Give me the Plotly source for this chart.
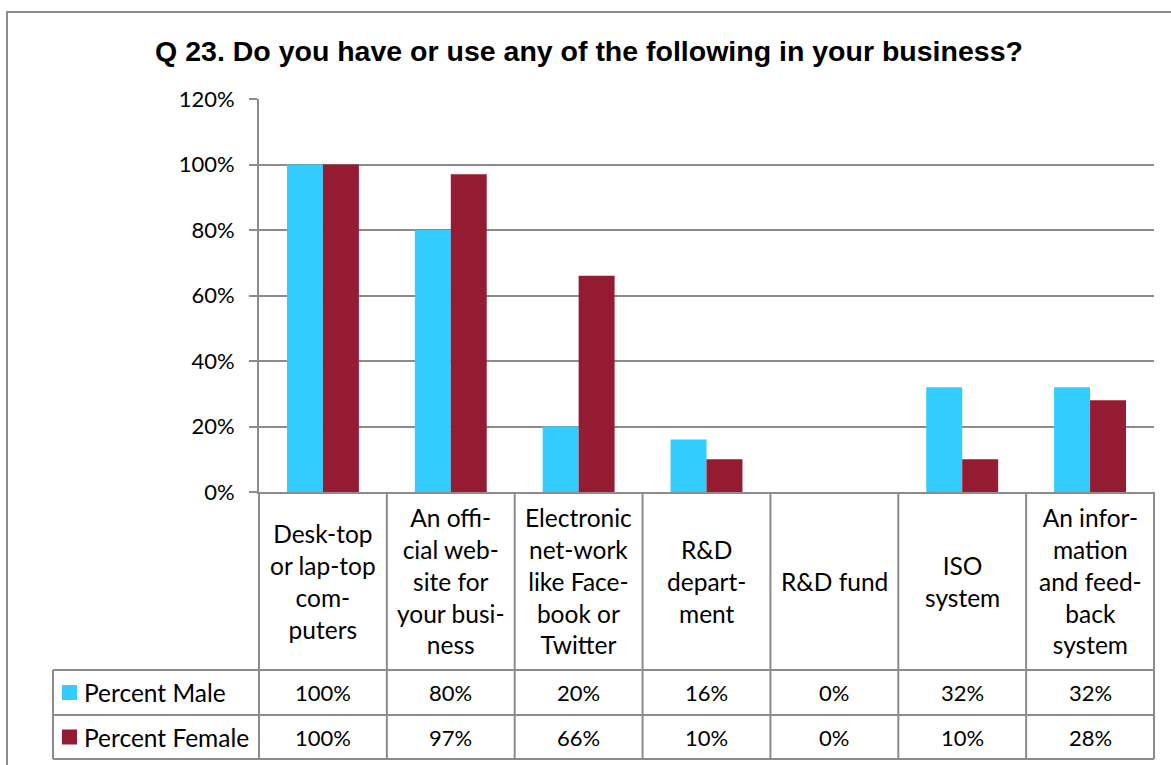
import plotly.graph_objects as go

# Survey data
categories = [
    "Desk-top or lap-top computers",
    "An official web-site for your business",
    "Electronic net-work like Facebook or Twitter",
    "R&D department",
    "R&D fund",
    "ISO system",
    "An information and feedback system",
]
header_labels = [
    "Desk-top<br>or lap-top<br>com-<br>puters",
    "An offi-<br>cial web-<br>site for<br>your busi-<br>ness",
    "Electronic<br>net-work<br>like Face-<br>book or<br>Twitter",
    "R&D<br>depart-<br>ment",
    "R&D fund",
    "ISO<br>system",
    "An infor-<br>mation<br>and feed-<br>back<br>system",
]
percent_male = [100, 80, 20, 16, 0, 32, 32]
percent_female = [100, 97, 66, 10, 0, 10, 28]
series_names = ["Percent Male", "Percent Female"]
y_ticks = [0, 20, 40, 60, 80, 100, 120]

W, H = 1171, 765
MALE_C = "#33CCFF"
FEMALE_C = "#951B32"
LINE_C = "#8C8C8C"
FONT = "Lato, Calibri, sans-serif"
FS_NUM = 22   # numeric labels
FS_TXT = 24.5  # word labels


def px(x):
    return x / W


def py(y):
    return 1 - y / H


# plot area / table geometry (pixels)
PL, PR = 259, 1154
PT, PB = 99, 492
ROW1, ROW2, ROW3 = 670, 715, 759
LEG_L = 53

fig = go.Figure()
fig.add_trace(go.Bar(x=categories, y=[v / 100 for v in percent_male],
                     name=series_names[0], marker_color=MALE_C, marker_line_width=0))
fig.add_trace(go.Bar(x=categories, y=[v / 100 for v in percent_female],
                     name=series_names[1], marker_color=FEMALE_C, marker_line_width=0))

shapes = []
# outer chart frame
shapes.append(dict(type="rect", xref="paper", yref="paper",
                   x0=px(7), x1=px(1185), y0=py(790), y1=py(12),
                   line=dict(color=LINE_C, width=2), fillcolor="rgba(0,0,0,0)"))
# table horizontal rules
for yy in [ROW1, ROW2, ROW3]:
    shapes.append(dict(type="line", xref="paper", yref="paper",
                       x0=px(LEG_L), x1=px(PR), y0=py(yy), y1=py(yy),
                       line=dict(color=LINE_C, width=2)))
# legend column left edge
shapes.append(dict(type="line", xref="paper", yref="paper",
                   x0=px(LEG_L), x1=px(LEG_L), y0=py(ROW1), y1=py(ROW3),
                   line=dict(color=LINE_C, width=2)))
# column separators
n = len(categories)
for k in range(n + 1):
    xx = PL + k * (PR - PL) / n
    shapes.append(dict(type="line", xref="paper", yref="paper",
                       x0=px(xx), x1=px(xx), y0=py(PB), y1=py(ROW3),
                       line=dict(color=LINE_C, width=2)))
# legend swatches
row_centers = [(ROW1 + ROW2) / 2, (ROW2 + ROW3) / 2]
for c, cy in zip([MALE_C, FEMALE_C], row_centers):
    shapes.append(dict(type="rect", xref="paper", yref="paper",
                       x0=px(62), x1=px(77), y0=py(cy + 7.5), y1=py(cy - 7.5),
                       line=dict(width=0), fillcolor=c))

annotations = []
for cat, lab in zip(categories, header_labels):
    annotations.append(dict(x=cat, xref="x", y=py((PB + ROW1) / 2), yref="paper",
                            text=lab, showarrow=False, xanchor="center", yanchor="middle",
                            font=dict(family=FONT, size=FS_TXT, color="black")))
for vals, yy in zip([percent_male, percent_female], row_centers):
    for cat, v in zip(categories, vals):
        annotations.append(dict(x=cat, xref="x", y=py(yy), yref="paper",
                                text=f"{v}%", showarrow=False, xanchor="center", yanchor="middle",
                                font=dict(family=FONT, size=FS_NUM, color="black")))
for name, yy in zip(series_names, row_centers):
    annotations.append(dict(x=px(82), xref="paper", y=py(yy), yref="paper",
                            text=name, showarrow=False, xanchor="left", yanchor="middle",
                            font=dict(family=FONT, size=FS_TXT, color="black")))

fig.update_layout(
    width=W, height=H,
    margin=dict(l=0, r=0, t=0, b=0, autoexpand=False),
    paper_bgcolor="white", plot_bgcolor="white",
    showlegend=False,
    barmode="group", bargap=0.4375, bargroupgap=0,
    title=dict(text="<b>Q 23. Do you have or use any of the following in your business?</b>",
               x=px(589), y=py(51), xanchor="center", yanchor="middle",
               font=dict(family="Arial, Liberation Sans, sans-serif", size=28.5, color="black")),
    xaxis=dict(domain=[px(PL), px(PR)], showticklabels=False, ticks="", automargin=False,
               showline=True, linecolor=LINE_C, linewidth=2, showgrid=False,
               range=[-0.5, n - 0.5]),
    yaxis=dict(domain=[py(PB), py(PT)], range=[0, 1.2], tickvals=[t / 100 for t in y_ticks],
               ticktext=[f"{t}%" for t in y_ticks], automargin=False,
               showgrid=True, gridcolor=LINE_C, gridwidth=1.5, zeroline=False,
               showline=True, linecolor=LINE_C, linewidth=2,
               ticks="outside", ticklen=8, tickcolor=LINE_C, tickwidth=1.5,
               ticklabelstandoff=10,
               tickfont=dict(family=FONT, size=FS_NUM, color="black")),
    shapes=shapes,
    annotations=annotations,
)

fig.write_html("out.html")
